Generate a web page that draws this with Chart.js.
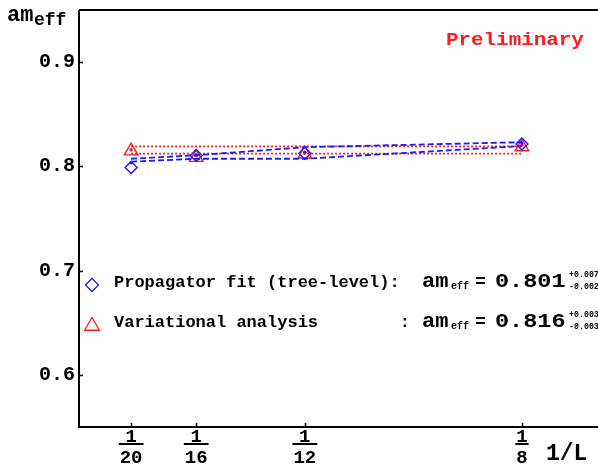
<!DOCTYPE html>
<html>
<head>
<meta charset="utf-8">
<script src="https://cdn.jsdelivr.net/npm/chart.js@4.4.1/dist/chart.umd.min.js"></script>
<style>
html,body{margin:0;padding:0;background:#fff;}
canvas{display:block;}
</style>
</head>
<body>
<canvas id="c" width="598" height="464" style="width:598px;height:464px"></canvas>
<script>
// ---- data ----
const xValues = [1/20, 1/16, 1/12, 1/8];
const xTickNumerators = ['1', '1', '1', '1'];
const xTickDenominators = ['20', '16', '12', '8'];
const yTicks = [0.6, 0.7, 0.8, 0.9];

const propagatorFit = [0.799, 0.8105, 0.8125, 0.8215];
const propagatorDots = [0.8035, 0.811, 0.8135, 0.8225];
const propagatorUpper = [0.8073, 0.8107, 0.8184, 0.8232];
const propagatorLower = [0.8045, 0.8073, 0.8073, 0.8195];

const variational = [0.8148, 0.8085, 0.8118, 0.8188];
const variationalDots = [0.816, 0.8105, 0.8128, 0.8205];
const variationalUpper = [0.8192, 0.8192, 0.8192, 0.8192];
const variationalLower = [0.8122, 0.8122, 0.8122, 0.8122];

const yTitle = ['am', 'eff'];
const xTitle = '1/L';
const watermark = 'Preliminary';
const legendLabels = ['Propagator fit (tree-level):', 'Variational analysis        :'];
const legendValues = ['0.801', '0.816'];
const legendPlus = ['+0.007', '+0.003'];
const legendMinus = ['-0.002', '-0.003'];

// ---- styling ----
const BLUE = '#1a1aff';
const RED = '#ff1a1a';
const FONT = '"Liberation Mono", "DejaVu Sans Mono", monospace';

function pts(ys) { return xValues.map((x, i) => ({ x: x, y: ys[i] })); }

function txt(ctx, s, x, y, size, color, sx, align) {
  ctx.save();
  ctx.font = 'bold ' + size + 'px ' + FONT;
  ctx.fillStyle = color || '#000';
  ctx.textBaseline = 'alphabetic';
  ctx.textAlign = align || 'left';
  ctx.translate(x, y);
  ctx.scale(sx || 1, 1);
  ctx.fillText(s, 0, 0);
  ctx.restore();
}

const decor = {
  id: 'decor',
  afterDraw(chart) {
    const ctx = chart.ctx;
    const a = chart.chartArea;
    const xs = chart.scales.x, ys = chart.scales.y;
    ctx.save();
    ctx.strokeStyle = '#000';
    ctx.lineWidth = 2;
    ctx.beginPath();
    ctx.moveTo(a.left, a.top); ctx.lineTo(a.right, a.top);
    ctx.moveTo(a.left, a.top); ctx.lineTo(a.left, a.bottom);
    ctx.lineTo(a.right, a.bottom);
    ctx.stroke();
    ctx.lineWidth = 1.5;
    ctx.beginPath();
    yTicks.forEach(v => { const p = Math.round(ys.getPixelForValue(v)) + 0.5; ctx.moveTo(a.left, p); ctx.lineTo(a.left + 4, p); });
    xValues.forEach(v => { const p = Math.round(xs.getPixelForValue(v)) + 0.5; ctx.moveTo(p, a.bottom); ctx.lineTo(p, a.bottom - 4); });
    ctx.stroke();
    // x fraction labels
    xValues.forEach((v, i) => {
      const p = xs.getPixelForValue(v);
      txt(ctx, xTickNumerators[i], p, 442, 19, '#000', 1, 'center');
      ctx.font = 'bold 19px ' + FONT;
      const w = ctx.measureText(xTickDenominators[i]).width + 2;
      ctx.fillStyle = '#000';
      ctx.fillRect(p - w / 2, 443, w, 2);
      txt(ctx, xTickDenominators[i], p, 463, 19, '#000', 1, 'center');
    });
    txt(ctx, xTitle, 546, 460, 23, '#000');
    // y title
    txt(ctx, yTitle[0], 7, 21, 22, '#000');
    txt(ctx, yTitle[1], 34, 25, 18, '#000');
    // watermark
    txt(ctx, watermark, 446, 45, 18, RED, 1.16);
    // legend
    const rows = [285, 326];
    const base = [287, 327];
    const styles = [['rectRot', BLUE, 6.5], ['triangle', RED, 8.5]];
    rows.forEach((ry, i) => {
      ctx.save();
      ctx.strokeStyle = styles[i][1];
      ctx.fillStyle = 'rgba(0,0,0,0)';
      ctx.lineWidth = 1.3;
      Chart.helpers.drawPoint(ctx, { pointStyle: styles[i][0], radius: styles[i][2], borderWidth: 1.3 }, 92, ry);
      ctx.restore();
      txt(ctx, legendLabels[i], 114, base[i], 17, '#000');
      txt(ctx, 'am', 422, base[i], 20, '#000', 1.1);
      txt(ctx, 'eff', 451, base[i] + 2, 10, '#000');
      txt(ctx, '=', 475, base[i], 18, '#000');
      txt(ctx, legendValues[i], 495, base[i], 21, '#000', 1.12);
      txt(ctx, legendPlus[i], 569, base[i] - 10, 9, '#000', 0.92);
      txt(ctx, legendMinus[i], 569, base[i] + 2, 9, '#000', 0.92);
    });
    ctx.restore();
  }
};

const bandLine = (data, color, dash, w) => ({
  data: pts(data), showLine: true, borderColor: color, borderWidth: w,
  borderDash: dash, pointRadius: 0, fill: false, tension: 0
});

function zeroPad(s) { s.paddingTop = 0; s.paddingBottom = 0; s.paddingLeft = 0; s.paddingRight = 0; }

new Chart(document.getElementById('c'), {
  type: 'scatter',
  data: {
    datasets: [
      bandLine(propagatorUpper, BLUE, [6, 3], 1.8),
      bandLine(propagatorLower, BLUE, [6, 3], 1.8),
      bandLine(variationalUpper, RED, [2, 2], 1.8),
      bandLine(variationalLower, RED, [2, 2], 1.8),
      { data: pts(propagatorFit), pointStyle: 'rectRot', pointRadius: 6, borderColor: BLUE, borderWidth: 1.4, backgroundColor: 'rgba(0,0,0,0)' },
      { data: pts(variational), pointStyle: 'triangle', pointRadius: 7.8, borderColor: RED, borderWidth: 1.4, backgroundColor: 'rgba(0,0,0,0)' },
      { data: pts(propagatorDots), pointStyle: 'circle', pointRadius: 1.7, borderWidth: 0, backgroundColor: BLUE },
      { data: pts(variationalDots), pointStyle: 'circle', pointRadius: 1.7, borderWidth: 0, backgroundColor: RED }
    ]
  },
  options: {
    responsive: false,
    animation: false,
    events: [],
    layout: { autoPadding: false, padding: { top: 10, right: 0, bottom: 0, left: 0 } },
    plugins: { legend: { display: false }, tooltip: { enabled: false } },
    scales: {
      x: {
        type: 'linear', min: 0.04, max: 0.1396,
        afterFit: s => { s.height = 37; zeroPad(s); },
        grid: { display: false, drawTicks: false }, border: { display: false },
        ticks: { display: false }
      },
      y: {
        type: 'linear', min: 0.55, max: 0.95,
        afterFit: s => { s.width = 79; zeroPad(s); },
        afterBuildTicks: s => { s.ticks = yTicks.map(v => ({ value: v })); },
        grid: { display: false, drawTicks: false }, border: { display: false },
        ticks: {
          color: '#000', padding: 4,
          font: { family: FONT, weight: 'bold', size: 20 },
          callback: v => v.toFixed(1)
        }
      }
    }
  },
  plugins: [decor]
});
</script>
</body>
</html>
